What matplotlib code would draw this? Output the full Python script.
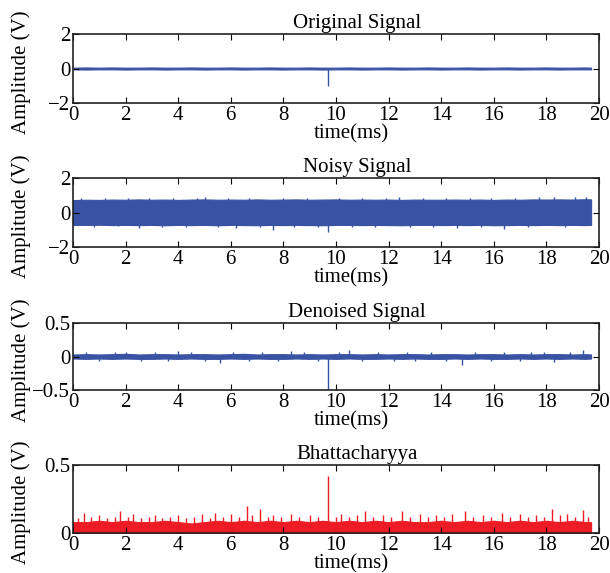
import matplotlib
matplotlib.use("Agg")
import matplotlib.pyplot as plt

plt.rcParams['font.family'] = ['Liberation Serif', 'DejaVu Serif']

# envelope sample times (ms)
t_env = [0.0, 0.5, 1.0, 1.5, 2.0, 2.5, 3.0, 3.5, 4.0, 4.5,
         5.0, 5.5, 6.0, 6.5, 7.0, 7.5, 8.0, 8.5, 9.0, 9.5,
         10.0, 10.5, 11.0, 11.5, 12.0, 12.5, 13.0, 13.5, 14.0, 14.5,
         15.0, 15.5, 16.0, 16.5, 17.0, 17.5, 18.0, 18.5, 19.0, 19.5, 19.7]

# Original signal: thin band around zero + spike
orig_hi = [0.05, 0.06, 0.05, 0.06, 0.05, 0.05, 0.06, 0.05, 0.05, 0.06,
           0.05, 0.05, 0.06, 0.05, 0.05, 0.06, 0.05, 0.05, 0.06, 0.05,
           0.05, 0.06, 0.05, 0.05, 0.06, 0.05, 0.05, 0.06, 0.05, 0.05,
           0.06, 0.05, 0.05, 0.06, 0.05, 0.05, 0.06, 0.05, 0.05, 0.06, 0.05]
orig_lo = [-0.05, -0.06, -0.05, -0.05, -0.06, -0.05, -0.05, -0.06, -0.05, -0.05,
           -0.06, -0.05, -0.05, -0.06, -0.05, -0.05, -0.06, -0.05, -0.05, -0.06,
           -0.05, -0.05, -0.06, -0.05, -0.05, -0.06, -0.05, -0.05, -0.06, -0.05,
           -0.05, -0.06, -0.05, -0.05, -0.06, -0.05, -0.05, -0.06, -0.05, -0.05, -0.05]
orig_spike_t = [9.7]
orig_spike_v = [-1.0]

# Noisy signal
noisy_hi = [0.72, 0.74, 0.73, 0.75, 0.74, 0.76, 0.74, 0.75, 0.73, 0.75,
            0.76, 0.74, 0.75, 0.74, 0.76, 0.74, 0.75, 0.76, 0.74, 0.75,
            0.76, 0.74, 0.75, 0.74, 0.75, 0.73, 0.75, 0.74, 0.74, 0.75,
            0.74, 0.75, 0.73, 0.75, 0.74, 0.76, 0.75, 0.76, 0.75, 0.77, 0.76]
noisy_lo = [-0.72, -0.72, -0.71, -0.73, -0.72, -0.73, -0.72, -0.74, -0.72, -0.73,
            -0.72, -0.74, -0.72, -0.73, -0.74, -0.72, -0.73, -0.72, -0.73, -0.74,
            -0.72, -0.72, -0.73, -0.72, -0.73, -0.74, -0.72, -0.72, -0.73, -0.72,
            -0.73, -0.72, -0.74, -0.73, -0.72, -0.73, -0.72, -0.73, -0.72, -0.73, -0.72]
noisy_spike_t = [0.3, 0.8, 1.2, 1.7, 2.1, 2.5, 2.9, 3.4, 3.8, 4.3, 4.7, 5.0,
                 5.5, 5.9, 6.2, 6.7, 7.1, 7.6, 8.0, 8.4, 8.9, 9.3, 9.7, 10.1,
                 10.6, 11.0, 11.5, 11.9, 12.4, 12.8, 13.3, 13.7, 14.2, 14.6,
                 15.1, 15.5, 15.9, 16.4, 16.8, 17.3, 17.7, 18.3, 18.7, 19.1, 19.5]
noisy_spike_v = [0.82, -0.84, 0.85, -0.8, 0.83, -0.88, 0.86, -0.82, 0.84, -0.85, 0.82, 0.88,
                 -0.83, 0.86, -0.92, 0.84, -0.86, -1.0, 0.85, -0.84, 0.83, -0.86, -1.15, 0.84,
                 -0.85, 0.82, -0.84, 0.86, 0.9, -0.83, 0.85, -0.86, 0.84, -0.9,
                 0.83, -0.85, 0.86, -0.95, 0.85, -0.84, 0.87, 0.9, -0.85, 0.88, 0.92]

# Denoised signal
den_hi = [0.03, 0.035, 0.03, 0.035, 0.04, 0.03, 0.035, 0.035, 0.03, 0.035,
          0.035, 0.03, 0.035, 0.04, 0.03, 0.035, 0.035, 0.03, 0.035, 0.03,
          0.035, 0.035, 0.03, 0.035, 0.03, 0.035, 0.035, 0.03, 0.035, 0.035,
          0.03, 0.035, 0.035, 0.03, 0.035, 0.03, 0.035, 0.035, 0.03, 0.035, 0.03]
den_lo = [-0.03, -0.035, -0.03, -0.035, -0.03, -0.035, -0.035, -0.03, -0.035, -0.03,
          -0.035, -0.035, -0.03, -0.035, -0.03, -0.035, -0.035, -0.03, -0.035, -0.03,
          -0.035, -0.03, -0.035, -0.035, -0.03, -0.035, -0.03, -0.035, -0.035, -0.03,
          -0.035, -0.03, -0.035, -0.035, -0.03, -0.035, -0.03, -0.035, -0.03, -0.035, -0.03]
den_spike_t = [0.5, 1.0, 1.6, 2.0, 2.6, 3.1, 3.6, 4.0, 4.5, 5.0, 5.6, 6.1, 6.7, 7.2,
               7.8, 8.3, 8.8, 9.3, 9.7, 10.1, 10.5, 11.0, 11.6, 12.2, 12.7, 13.0,
               13.6, 14.2, 14.8, 15.3, 15.9, 16.4, 17.0, 17.4, 17.9, 18.3, 18.9, 19.4]
den_spike_v = [0.06, -0.06, 0.06, 0.07, -0.06, 0.06, -0.06, 0.08, 0.06, -0.06, -0.09, 0.06, -0.06, 0.07,
               -0.06, 0.08, 0.06, -0.06, -0.5, 0.06, 0.09, -0.06, 0.06, -0.06, 0.06, -0.07,
               0.06, -0.06, -0.12, 0.06, -0.06, 0.06, -0.06, 0.07, 0.06, -0.08, 0.06, 0.1]

# Bhattacharyya: dense band + peaks
bh_base = [0.08, 0.08, 0.09, 0.08, 0.09, 0.08, 0.08, 0.09, 0.08, 0.07,
           0.08, 0.09, 0.08, 0.09, 0.08, 0.09, 0.08, 0.09, 0.08, 0.09,
           0.08, 0.09, 0.08, 0.09, 0.08, 0.09, 0.08, 0.08, 0.09, 0.08,
           0.09, 0.08, 0.09, 0.08, 0.09, 0.08, 0.09, 0.08, 0.09, 0.08, 0.08]
bh_peak_t = [0.2, 0.4, 0.7, 1.0, 1.3, 1.6, 1.8, 2.1, 2.3, 2.6, 2.9, 3.1, 3.4, 3.7,
             4.0, 4.3, 4.6, 4.9, 5.2, 5.4, 5.7, 6.0, 6.3, 6.6, 6.8, 7.1, 7.4, 7.6,
             7.9, 8.3, 8.6, 9.0, 9.3, 9.7, 10.0, 10.2, 10.5, 10.8, 11.1, 11.4, 11.8,
             12.1, 12.5, 12.8, 13.2, 13.5, 13.8, 14.1, 14.4, 14.9, 15.2, 15.6, 15.9,
             16.3, 16.6, 17.0, 17.3, 17.6, 17.9, 18.2, 18.5, 18.8, 19.1, 19.4, 19.6]
bh_peak_v = [0.11, 0.15, 0.12, 0.13, 0.11, 0.12, 0.16, 0.12, 0.14, 0.11, 0.12, 0.13, 0.11, 0.12,
             0.13, 0.11, 0.12, 0.14, 0.11, 0.15, 0.12, 0.14, 0.12, 0.20, 0.13, 0.18, 0.12, 0.13,
             0.12, 0.14, 0.12, 0.13, 0.12, 0.42, 0.12, 0.14, 0.12, 0.13, 0.16, 0.12, 0.13,
             0.12, 0.16, 0.12, 0.14, 0.12, 0.13, 0.12, 0.14, 0.16, 0.12, 0.13, 0.12,
             0.15, 0.12, 0.14, 0.12, 0.13, 0.12, 0.18, 0.13, 0.14, 0.12, 0.17, 0.12]

titles = ['Original Signal', 'Noisy Signal', 'Denoised Signal', 'Bhattacharyya']
ylims = [(-2, 2), (-2, 2), (-0.5, 0.5), (0, 0.5)]
yticks = [[-2, 0, 2], [-2, 0, 2], [-0.5, 0, 0.5], [0, 0.5]]
yticklabels = [['\u22122', '0', '2'], ['\u22122', '0', '2'],
               ['\u22120.5', '0', '0.5'], ['0', '0.5']]
xticks = [0, 2, 4, 6, 8, 10, 12, 14, 16, 18, 20]

blue = '#3953a4'
red = '#ed1c24'

W, H = 610, 573
# (top, bottom) pixel rows of each axes box
rows = [(34, 103), (178, 247), (323, 390), (465, 533)]
left_px, right_px = 73, 599

fig = plt.figure(figsize=(W / 100, H / 100), dpi=100)
axes = []
for top, bot in rows:
    ax = fig.add_axes([left_px / W, 1 - bot / H, (right_px - left_px) / W, (bot - top) / H])
    axes.append(ax)

# blue bands
bands = [(orig_hi, orig_lo, orig_spike_t, orig_spike_v),
         (noisy_hi, noisy_lo, noisy_spike_t, noisy_spike_v),
         (den_hi, den_lo, den_spike_t, den_spike_v)]
for ax, (hi, lo, st, sv) in zip(axes[:3], bands):
    ax.fill_between(t_env, lo, hi, color=blue, linewidth=0.8, edgecolor=blue)
    ax.vlines(st, 0, sv, color=blue, linewidth=1.0)

ax = axes[3]
ax.fill_between(t_env, 0, bh_base, color=red, linewidth=0.8, edgecolor=red)
ax.vlines(bh_peak_t, 0, bh_peak_v, color=red, linewidth=1.0)

fs = 15
for i, ax in enumerate(axes):
    top, bot = rows[i]
    hpx = bot - top
    ax.set_xlim(0, 20)
    ax.set_ylim(*ylims[i])
    ax.set_xticks(xticks)
    ax.set_yticks(yticks[i])
    ax.set_yticklabels(yticklabels[i])
    ax.tick_params(direction='in', top=True, right=True, length=4, width=0.8,
                   labelsize=fs, pad=2)
    ax.set_title(titles[i], fontsize=fs, x=0.54, pad=4)
    ax.set_xlabel('time(ms)', fontsize=fs)
    ax.xaxis.set_label_coords(0.53, -21 / hpx)
    ax.set_ylabel('Amplitude (V)', fontsize=fs)
    ax.yaxis.set_label_coords(-0.08, 0.45)
    for s in ax.spines.values():
        s.set_linewidth(1.2)
        s.set_color('#222222')

fig.savefig('out.png', dpi=100)
